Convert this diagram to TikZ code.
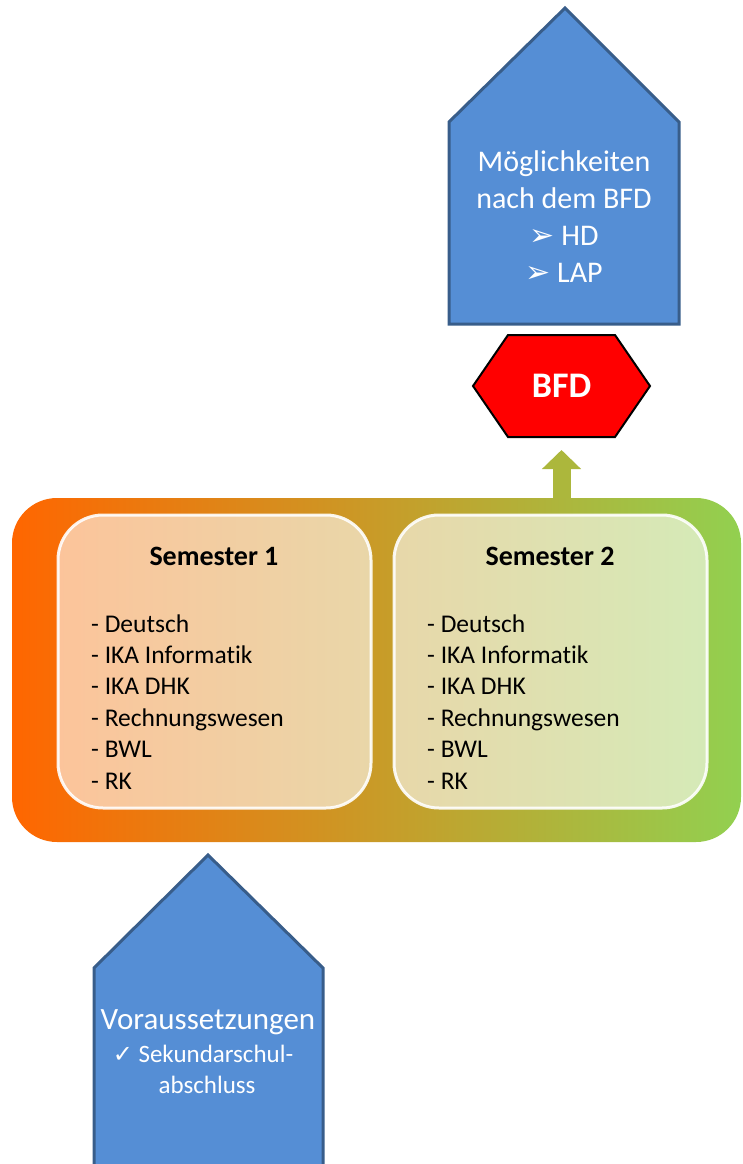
\documentclass[tikz,border=0pt]{standalone}
\usepackage{fontspec}
\setmainfont{Carlito}[Ligatures={NoCommon}]
\newfontfamily\symfont{DejaVu Sans}
\usetikzlibrary{arrows.meta}
\usetikzlibrary{positioning}

\definecolor{housefill}{RGB}{85,142,213}
\definecolor{houseline}{RGB}{56,93,138}
\definecolor{bfdred}{RGB}{255,0,0}
\definecolor{leftorange}{RGB}{255,102,0}
\definecolor{midgold}{RGB}{200,155,40}
\definecolor{rightgreen}{RGB}{146,208,80}
\definecolor{arrowolive}{RGB}{172,183,60}

\tikzset{
  house/.style={fill=housefill, draw=houseline, line width=3pt, line join=miter},
  housetext/.style={text=white, align=center, inner sep=0},
  semesterbox/.style={fill=white, fill opacity=.6, draw=white, draw opacity=.9, line width=3pt, rounded corners=45pt, minimum width=313pt, minimum height=293pt},
  heading/.style={font=\fontsize{28}{32}\selectfont\bfseries, inner sep=0},
  fach/.style={anchor=base west, font=\fontsize{25.5}{30}\selectfont, inner sep=0}
}

\begin{document}
\begin{tikzpicture}[x=1pt, y=-1pt]
\useasboundingbox (0,0) rectangle (742,1164);

% upper house
\draw[house] (449,324) -- (449,122) -- (565,8) -- (679,122) -- (679,324) -- cycle;
\node[housetext, font=\fontsize{30}{37}\selectfont] (moeglich) at (564,217)
  {M\"oglichkeiten\\nach dem BFD\\{\symfont\fontsize{30}{37}\selectfont ➢} HD\\{\symfont\fontsize{30}{37}\selectfont ➢} LAP};

% BFD
\draw[fill=bfdred, draw=black, line width=2pt] (473,386) -- (508,335) -- (615,335) -- (650,386) -- (615,437) -- (508,437) -- cycle;
\node[text=white, font=\fontsize{36}{40}\selectfont\bfseries] (bfd) at (561.5,386) {BFD};
\coordinate (bfdunten) at (561.5,437);

% year
\shade[left color=leftorange, middle color=midgold, right color=rightgreen, rounded corners=45pt] (12,498) rectangle (741,842);
\coordinate (jahroben) at (561.5,498);
\draw[arrowolive, line width=18pt, -{Triangle[width=38pt, length=19pt]}, shorten >=13pt] (jahroben) -- (bfdunten);

\node[semesterbox] (sem1) at (214.5,661.5) {};
\node[semesterbox] (sem2) at (550.5,661.5) {};
\node[heading] (sem1kopf) at (214,556) {Semester 1};
\node[heading] (sem2kopf) at (550,556) {Semester 2};
\foreach \fach [count=\i] in {Deutsch, IKA Informatik, IKA DHK, Rechnungswesen, BWL, RK} {
 \node[fach] (eins-\i) at (91,{632+31.4*(\i-1)}) {- \fach};
 \node[fach] (zwei-\i) at (427,{632+31.4*(\i-1)}) {- \fach};
}

% lower house
\draw[house] (94,1180) -- (94,968) -- (208,855) -- (323,968) -- (323,1180);
\node[housetext, font=\fontsize{31}{34}\selectfont, anchor=base] (vor) at (208,1029) {Voraussetzungen};
\node[housetext, font=\fontsize{25}{32}\selectfont, anchor=base] (sek) at (203,1062) {{\symfont\fontsize{24}{32}\selectfont ✓} Sekundarschul-};
\node[housetext, font=\fontsize{25}{32}\selectfont, anchor=base] (absch) at (207,1093) {abschluss};
\end{tikzpicture}
\end{document}
